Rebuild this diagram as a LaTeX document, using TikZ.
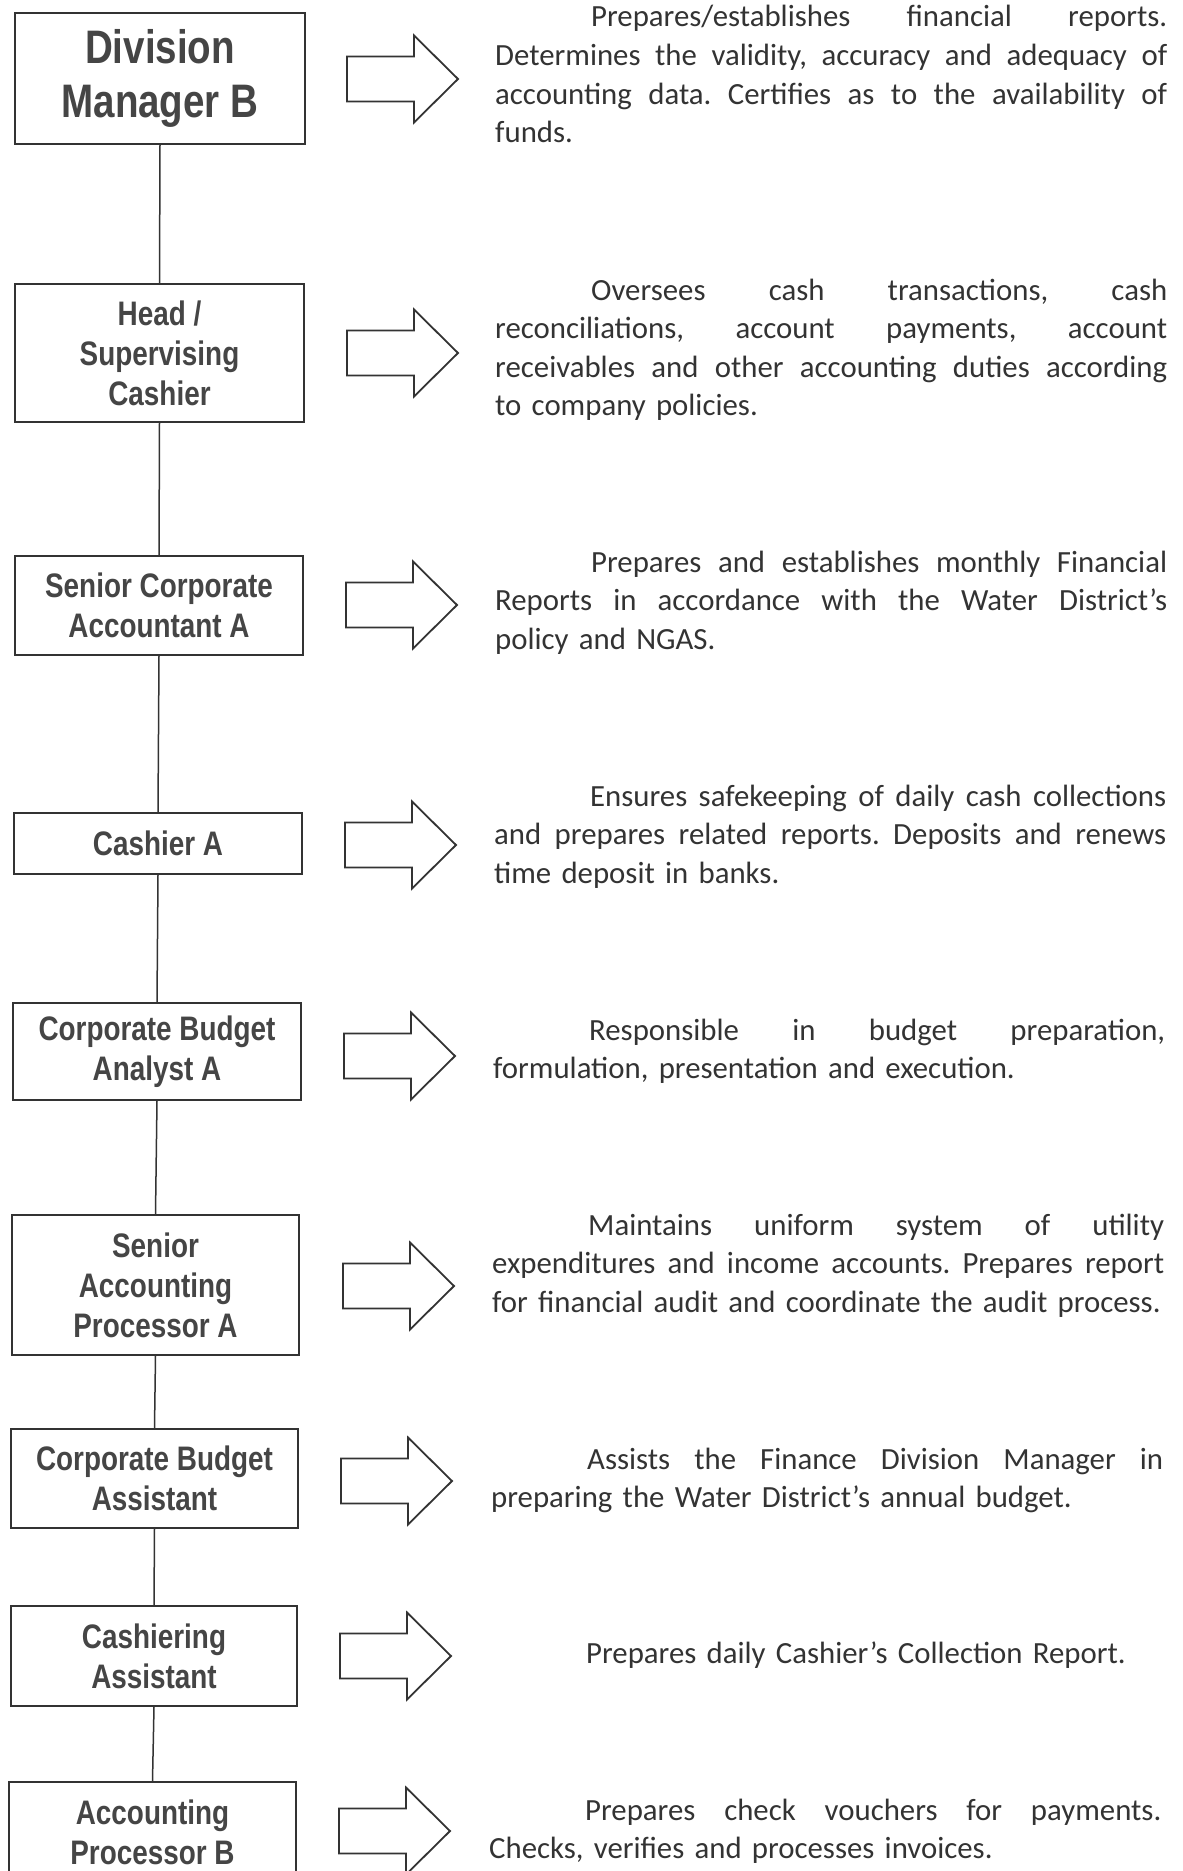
\documentclass[tikz,border=0pt]{standalone}
\usepackage{fontspec}
\setmainfont{Carlito}
\newfontfamily\boxfont[FakeStretch=0.82]{Liberation Sans}
\definecolor{linegray}{HTML}{333333}
\definecolor{boxtext}{HTML}{454545}
\definecolor{desctext}{HTML}{333333}
\newcommand\firstl[1]{\makebox[672pt][s]{\hspace*{96pt}#1}}
\newcommand\justl[1]{\makebox[672pt][s]{#1}}
\newcommand\gap{\hfill}
\newcommand\descsetup{\frenchspacing\fontsize{30.8}{38.6}\selectfont}
\begin{document}
\begin{tikzpicture}[x=1pt,y=-1pt,
  rolebox/.style={draw=linegray, line width=2pt, inner sep=0pt, anchor=north west,
    align=center, text=boxtext, font=\boxfont\bfseries\fontsize{34}{40}\selectfont},
  bigbox/.style={rolebox, font=\boxfont\bfseries\fontsize{47}{54}\selectfont},
  link/.style={draw=linegray, line width=1.5pt},
  desc/.style={anchor=base west, inner sep=0pt, text width=672pt, align=left,
    text=desctext, font=\descsetup},
  arrowline/.style={draw=linegray, line width=1.8pt, fill=white, line join=miter},
  blockarr/.pic={\path[arrowline] (0,-22.5) -- (67,-22.5) -- (67,-43.5) -- (111,0)
    -- (67,43.5) -- (67,22.5) -- (0,22.5) -- cycle;}
]
\useasboundingbox[fill=white] (0,0) rectangle (1183,1871);

% role boxes
\node[bigbox, minimum width=290pt, minimum height=131pt] (b1) at (14,12) {Division\\Manager B};
\node[rolebox, minimum width=289pt, minimum height=138pt] (b2) at (14,283) {Head /\\Supervising\\Cashier};
\node[rolebox, minimum width=288pt, minimum height=99pt] (b3) at (14,555) {Senior Corporate\\Accountant A};
\node[rolebox, minimum width=288pt, minimum height=61pt] (b4) at (13,812) {Cashier A};
\node[rolebox, minimum width=288pt, minimum height=97pt] (b5) at (12,1002) {Corporate Budget\\Analyst A};
\node[rolebox, minimum width=287pt, minimum height=140pt] (b6) at (11,1214) {Senior\\Accounting\\Processor A};
\node[rolebox, minimum width=287pt, minimum height=99pt] (b7) at (10,1428) {Corporate Budget\\Assistant};
\node[rolebox, minimum width=286pt, minimum height=100pt] (b8) at (10,1605) {Cashiering\\Assistant};
\node[rolebox, minimum width=287pt, minimum height=100pt] (b9) at (8,1781) {Accounting\\Processor B};

% connectors
\draw[link] (b1.south) -- (b2.north);
\draw[link] (b2.south) -- (b3.north);
\draw[link] (b3.south) -- (b4.north);
\draw[link] (b4.south) -- (b5.north);
\draw[link] (b5.south) -- (b6.north);
\draw[link] (b6.south) -- (b7.north);
\draw[link] (b7.south) -- (b8.north);
\draw[link] (b8.south) -- (b9.north);

% block arrows
\pic at (347,79) {blockarr};
\pic at (347,353) {blockarr};
\pic at (346,605) {blockarr};
\pic at (345,845) {blockarr};
\pic at (344,1056) {blockarr};
\pic at (343,1286) {blockarr};
\pic at (341,1481) {blockarr};
\pic at (340,1656) {blockarr};
\pic at (339,1831) {blockarr};

% descriptions
\node[desc] (t1) at (495,27) {\firstl{Prepares/establishes \gap financial \gap reports.}\\
\justl{Determines \gap the \gap validity, \gap accuracy \gap and \gap adequacy \gap of}\\
\justl{accounting \gap data. \gap Certifies \gap as \gap to \gap the \gap availability \gap of}\\
funds.};
\node[desc] (t2) at (495,300) {\firstl{Oversees \gap cash \gap transactions, \gap cash}\\
\justl{reconciliations, \gap account \gap payments, \gap account}\\
\justl{receivables \gap and \gap other \gap accounting \gap duties \gap according}\\
to company policies.};
\node[desc] (t3) at (495,572) {\firstl{Prepares \gap and \gap establishes \gap monthly \gap Financial}\\
\justl{Reports \gap in \gap accordance \gap with \gap the \gap Water \gap District’s}\\
policy and NGAS.};
\node[desc] (t4) at (494,806) {\firstl{Ensures \gap safekeeping \gap of \gap daily \gap cash \gap collections}\\
\justl{and \gap prepares \gap related \gap reports. \gap Deposits \gap and \gap renews}\\
time deposit in banks.};
\node[desc] (t5) at (493,1040) {\firstl{Responsible \gap in \gap budget \gap preparation,}\\
formulation, presentation and execution.};
\node[desc] (t6) at (492,1235) {\firstl{Maintains \gap uniform \gap system \gap of \gap utility}\\
\justl{expenditures \gap and \gap income \gap accounts. \gap Prepares \gap report}\\
for financial audit and coordinate the audit process.};
\node[desc] (t7) at (491,1469) {\firstl{Assists \gap the \gap Finance \gap Division \gap Manager \gap in}\\
preparing the Water District’s annual budget.};
\node[desc] (t8) at (490,1663) {\hspace*{96pt}Prepares daily Cashier’s Collection Report.};
\node[desc] (t9) at (489,1820) {\firstl{Prepares \gap check \gap vouchers \gap for \gap payments.}\\
Checks, verifies and processes invoices.};
\end{tikzpicture}
\end{document}
